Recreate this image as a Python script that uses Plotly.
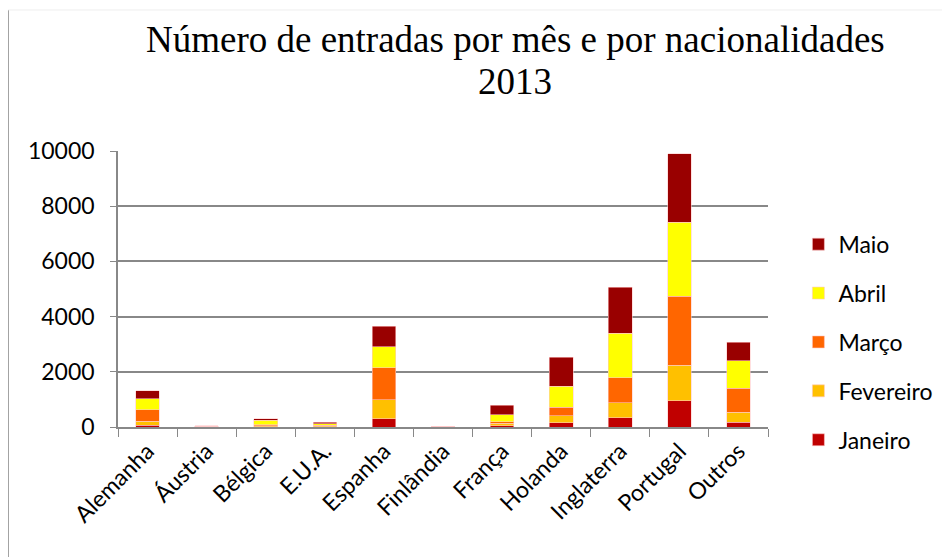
import plotly.graph_objects as go

paises = ['Alemanha', 'Áustria', 'Bélgica', 'E.U.A.', 'Espanha', 'Finlândia',
          'França', 'Holanda', 'Inglaterra', 'Portugal', 'Outros']

janeiro = [60, 5, 10, 15, 300, 5, 50, 157, 337, 952, 181]
fevereiro = [140, 20, 40, 30, 680, 15, 80, 253, 533, 1292, 362]
marco = [420, 5, 30, 15, 1160, 5, 60, 314, 915, 2498, 857]
abril = [410, 5, 160, 60, 770, 5, 250, 760, 1605, 2668, 1000]
maio = [280, 5, 60, 60, 740, 5, 340, 1050, 1680, 2498, 666]

meses = ['Janeiro', 'Fevereiro', 'Março', 'Abril', 'Maio']
series = [janeiro, fevereiro, marco, abril, maio]
cores = ['#C00000', '#FFC000', '#FF6600', '#FFFF00', '#990000']

fig = go.Figure()
for i, (nome, vals, cor) in enumerate(zip(meses, series, cores)):
    fig.add_trace(go.Bar(x=paises, y=vals, name=nome, marker_color=cor,
                         marker_line=dict(color='rgba(255,200,200,0.8)', width=0.7),
                         legendgroup=nome, legendrank=1000 - i))  # Maio on top

titulo = ['Número de entradas por mês e por nacionalidades', '2013']

# page body adds 8px offset, so figure coords = reference - 8
fig.update_layout(
    barmode='stack',
    bargap=0.6,
    width=950, height=557,
    paper_bgcolor='white', plot_bgcolor='white',
    margin=dict(l=110, r=190, t=143, b=138, autoexpand=False),
    font=dict(family='Lato', color='black'),
    legend=dict(traceorder='grouped', tracegroupgap=16,
                xref='container', yref='container', x=0.832, y=0.40,
                xanchor='left', yanchor='middle', itemwidth=30,
                font=dict(family='Lato', size=23, color='black')),
    showlegend=True,
)
# title as two lines placed separately (tight line spacing)
for txt, ypx in zip(titulo, [31, 73]):
    fig.add_annotation(text=txt, xref='paper', yref='paper',
                       x=(507 - 110) / 650, y=(419 - ypx) / 276,
                       xanchor='center', yanchor='middle', showarrow=False,
                       font=dict(family='Liberation Serif', size=37, color='black'))

fig.update_yaxes(range=[0, 10000], dtick=2000, tickformat='d',
                 showgrid=True, gridcolor='#888888', gridwidth=1.5,
                 showline=True, linecolor='#888888', linewidth=1.5,
                 ticks='outside', ticklen=6, tickcolor='#888888',
                 ticklabelstandoff=11,
                 tickfont=dict(size=23, family='Lato', color='black'),
                 zeroline=False)
fig.update_xaxes(showline=True, linecolor='#888888', linewidth=1.5,
                 ticks='outside', tickson='boundaries', ticklen=8, tickcolor='#888888',
                 tickangle=-45, automargin=False,
                 tickfont=dict(size=23, family='Lato', color='black'))

# frame edges (left and faint top)
fig.add_shape(type='line', xref='paper', yref='paper', x0=-0.169, x1=-0.169, y0=-0.6, y1=1.511,
              line=dict(color='#999999', width=1.5))
fig.add_shape(type='line', xref='paper', yref='paper', x0=-0.169, x1=1.3, y0=1.511, y1=1.511,
              line=dict(color='#eeeeee', width=1))

fig.write_html("out.html")
